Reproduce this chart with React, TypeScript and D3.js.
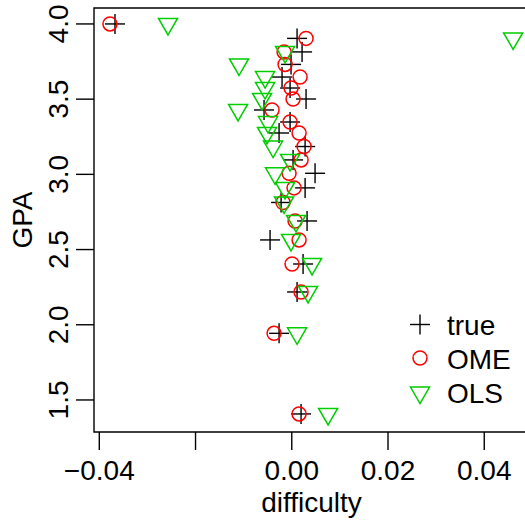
import React from "react";
import * as d3 from "d3";

const gpa = [4.0, 3.904, 3.814, 3.731, 3.647, 3.574, 3.501, 3.428, 3.348, 3.275, 3.185, 3.096, 3.007, 2.91, 2.813, 2.69, 2.564, 2.404, 2.218, 1.943, 1.407];
const trueDiff = [-0.03674, 0.0011, 0.00214, -0.00015, -0.00202, -0.00035, 0.00297, -0.00576, -0.00035, -0.00264, 0.00277, 0.00027, 0.00484, 0.00277, -0.00222, 0.00318, -0.00451, 0.00235, 0.0011, -0.00264, 0.00193];
const omeDiff = [-0.03778, 0.00297, -0.0016, -0.00139, 0.00173, -0.00015, 0.00027, -0.0041, -0.00035, 0.00152, 0.00256, 0.00193, -0.00056, 0.00048, -0.00181, 0.00069, 0.00152, 0.00006, 0.00193, -0.00368, 0.00152];
const olsDiff = [-0.02572, 0.046, -0.00139, -0.01096, -0.00555, -0.00555, -0.00617, -0.01116, -0.00493, -0.00514, -0.00389, -0.00035, -0.00347, -0.00139, -0.0016, 0.00089, -0.00015, 0.00422, 0.00339, 0.0011, 0.00755];

const xTicks = [-0.04, -0.02, 0, 0.02, 0.04];
const xTickLabels = ["\u22120.04", "", "0.00", "0.02", "0.04"];
const yTicks = [1.5, 2.0, 2.5, 3.0, 3.5, 4.0];
const yTickLabels = ["1.5", "2.0", "2.5", "3.0", "3.5", "4.0"];
const legendLabels = ["true", "OME", "OLS"];

const FONT = "'Liberation Sans', Arial, Helvetica, sans-serif";
const FS = 28;
const GREEN = "#00CD00";
const RED = "#FF0000";

const Cross = ({ x, y }: { x: number; y: number }) => (
  <g stroke="#000" strokeWidth={1.4}>
    <line x1={x - 10} x2={x + 10} y1={y} y2={y} />
    <line x1={x} x2={x} y1={y - 10} y2={y + 10} />
  </g>
);
const Circ = ({ x, y }: { x: number; y: number }) => (
  <circle cx={x} cy={y} r={7} fill="none" stroke={RED} strokeWidth={1.5} />
);
const Tri = ({ x, y }: { x: number; y: number }) => {
  const r = 11;
  const h = (r * Math.sqrt(3)) / 2;
  return (
    <path
      d={`M${x},${y + r}L${x + h},${y - r / 2}L${x - h},${y - r / 2}Z`}
      fill="none"
      stroke={GREEN}
      strokeWidth={1.5}
    />
  );
};

export default function App() {
  const W = 525, H = 522;
  const left = 94, right = 529, top = 8, bottom = 432;
  const x = d3.scaleLinear().domain([-0.0411, 0.0493]).range([left, right]);
  const y = d3.scaleLinear().domain([1.287, 4.106]).range([bottom, top]);

  const legendY = [324.5, 358, 392.5];
  const legendX = 420;

  return (
    <svg width={W} height={H} style={{ position: "absolute", left: 0, top: 0, background: "#fff" }} fontFamily={FONT}>
      <rect x={0} y={0} width={W} height={H} fill="#fff" />
      {/* box */}
      <path d={`M${right},${top}H${left}V${bottom}H${right}V${top}`} fill="none" stroke="#000" strokeWidth={1.4} />
      {/* x axis */}
      {xTicks.map((t, i) => (
        <g key={"xt" + i}>
          <line x1={x(t)} x2={x(t)} y1={bottom} y2={bottom + 18} stroke="#000" strokeWidth={1.4} />
          {xTickLabels[i] && (
            <text x={x(t)} y={480} textAnchor="middle" fontSize={FS}>
              {xTickLabels[i]}
            </text>
          )}
        </g>
      ))}
      {/* y axis */}
      {yTicks.map((t, i) => (
        <g key={"yt" + i}>
          <line x1={left - 18} x2={left} y1={y(t)} y2={y(t)} stroke="#000" strokeWidth={1.4} />
          <text
            transform={`translate(68,${y(t)}) rotate(-90)`}
            textAnchor="middle"
            fontSize={FS}
          >
            {yTickLabels[i]}
          </text>
        </g>
      ))}
      <text x={(left + right) / 2} y={512} textAnchor="middle" fontSize={FS}>difficulty</text>
      <text transform={`translate(31.5,${(top + bottom) / 2}) rotate(-90)`} textAnchor="middle" fontSize={FS}>GPA</text>

      {/* points */}
      {gpa.map((g, i) => <Cross key={"c" + i} x={x(trueDiff[i])} y={y(g)} />)}
      {gpa.map((g, i) => <Circ key={"o" + i} x={x(omeDiff[i])} y={y(g)} />)}
      {gpa.map((g, i) => <Tri key={"t" + i} x={x(olsDiff[i])} y={y(g)} />)}

      {/* legend */}
      <Cross x={legendX} y={legendY[0]} />
      <Circ x={legendX} y={legendY[1]} />
      <Tri x={legendX} y={legendY[2]} />
      {legendLabels.map((l, i) => (
        <text key={l} x={447} y={legendY[i] + 10.5} fontSize={FS}>{l}</text>
      ))}
    </svg>
  );
}
